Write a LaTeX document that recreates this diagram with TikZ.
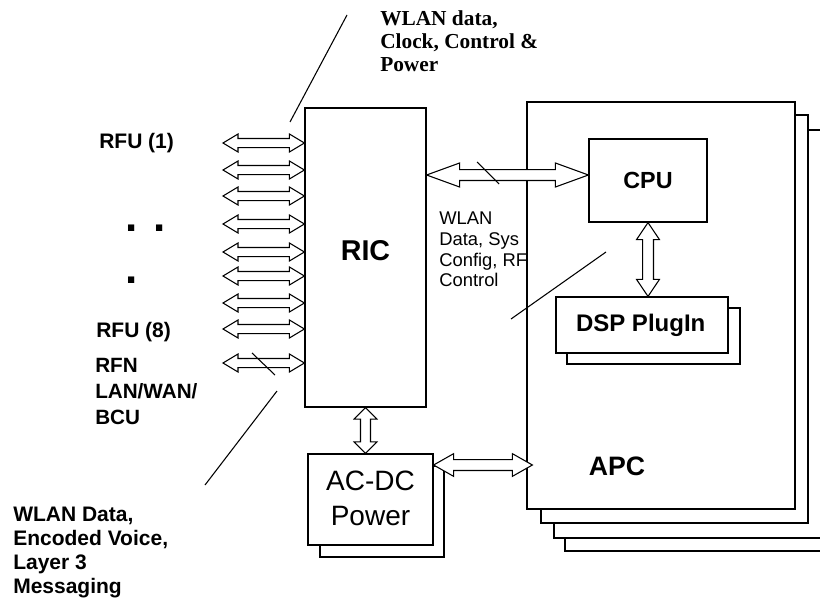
\documentclass[tikz,border=0pt]{standalone}
\usepackage{fontspec}
\setmainfont{Liberation Sans}
\newfontfamily\timesfont{Liberation Serif}
\usetikzlibrary{calc,fit}

\begin{document}
\begin{tikzpicture}[x=0.75pt, y=-0.75pt, line join=miter,
    box/.style={draw, line width=0.9pt, fill=white, inner sep=0pt},
    leader/.style={line width=0.8pt},
    blockarrow/.style n args={3}{draw, line width=0.8pt, fill=white,
        /utils/exec={\pgfmathsetmacro\headR{veclen(#1,#2)}%
            \pgfmathsetmacro\headA{atan2(#2,#1)}%
            \pgfmathsetmacro\neckR{veclen(#1,#3)}%
            \pgfmathsetmacro\neckA{atan2(#3,#1)}},
        to path={-- ($(\tikztostart)!\headR pt!\headA:(\tikztotarget)$)
            -- ($(\tikztostart)!\neckR pt!\neckA:(\tikztotarget)$)
            -- ($(\tikztotarget)!\neckR pt!-\neckA:(\tikztostart)$)
            -- ($(\tikztotarget)!\headR pt!-\headA:(\tikztostart)$)
            -- (\tikztotarget)
            -- ($(\tikztotarget)!\headR pt!\headA:(\tikztostart)$)
            -- ($(\tikztotarget)!\neckR pt!\neckA:(\tikztostart)$)
            -- ($(\tikztostart)!\neckR pt!-\neckA:(\tikztotarget)$)
            -- ($(\tikztostart)!\headR pt!-\headA:(\tikztotarget)$)
            -- cycle}},
    rfuarrow/.style={blockarrow={11.25}{6.75}{3.4}}]
        \useasboundingbox (0,0) rectangle (820,603);

        % --- Bus label (partly hidden by the APC card) ---
        \node[anchor=north west, inner sep=0pt, align=left, font=\fontsize{13.8}{15.5}\selectfont] 
            (buslbl) at (439,212) {WLAN\\Data, Sys\\Config, RF\\Control};

        % --- APC card stack ---
        \draw[line width=0.9pt, fill=white] (565,144) rectangle (835,551);
        \draw[line width=0.9pt, fill=white] (554,130) rectangle (822,538);
        \draw[line width=0.9pt, fill=white] (541,115) rectangle (808,523);
        \node[box, fit={(527,102) (795,509)}] (apc) {};
        \node[font=\bfseries\fontsize{20}{24}\selectfont] (apclbl) at (617,466) {APC};

        % --- CPU and DSP plug-in ---
        \node[box, fit={(589,139) (707,222)}, 
            label={[font=\bfseries\fontsize{17.5}{20}\selectfont]center:CPU}] (cpu) {};
        \draw[line width=0.9pt, fill=white] (567,308) rectangle (740,364);
        \node[box, fit={(556,297) (728,353)}, 
            label={[font=\bfseries\fontsize{18}{21}\selectfont, xshift=-1pt]center:DSP PlugIn}] (dsp) {};

        % --- RIC and power supply ---
        \node[box, fit={(305,108) (426,407)}, 
            label={[font=\bfseries\fontsize{21.5}{24}\selectfont, yshift=5pt]center:RIC}] (ric) {};
        \draw[line width=0.9pt, fill=white] (320,466) rectangle (444,557);
        \node[box, fit={(308,454) (433,545)}, 
            label={[align=center, font=\fontsize{21}{26}\selectfont, yshift=1pt]center:{AC-DC\\Power}}] (acdc) {};

        % --- RFU links into RIC ---
        \foreach \y [count=\i] in {143,170,196,224,252,276,303,329,363} {
            \coordinate (rfu\i) at (223,\y);
            \coordinate (ricin\i) at (ric.west |- rfu\i);
            \draw[rfuarrow] (rfu\i) to (ricin\i);
        }

        % --- Block arrows between units ---
        \coordinate (ricbus) at (ric.east |- 0,175);
        \coordinate (cpubus) at (cpu.west |- ricbus);
        \draw[blockarrow={24.75}{9}{4.1}] (ricbus) to (cpubus);

        \coordinate (cpudown) at (cpu.south);
        \coordinate (dspup) at (cpu.south |- dsp.north);
        \draw[blockarrow={12.75}{8.6}{4.1}] (cpudown) to (dspup);

        \coordinate (ricdown) at (ric.south);
        \coordinate (acdcup) at (ric.south |- acdc.north);
        \draw[blockarrow={8.6}{8.5}{3.75}] (ricdown) to (acdcup);

        \coordinate (acdcout) at (acdc.east |- 0,465);
        \coordinate (apcin) at ($(apc.west |- acdcout)+(6,0)$);
        \draw[blockarrow={15}{8.5}{4.1}] (acdcout) to (apcin);

        % --- Bus slashes and leader lines ---
        \draw[leader] (477,162) -- (499,184);
        \draw[leader] (252,353) -- (275,375);
        \draw[leader] (347,15) -- (290,122);
        \draw[leader] (606,252) -- (511,319);
        \draw[leader] (277,391) -- (205,485);

        % --- Left side labels ---
        \node[anchor=west, inner sep=0pt, font=\bfseries\fontsize{15.75}{19.5}\selectfont] 
            (rfufirst) at (99,143) {RFU (1)};
        \node[anchor=base west, inner sep=0pt, font=\bfseries\fontsize{33}{33}\selectfont] 
            (dotstwo) at (125,231) {. .};
        \node[anchor=base west, inner sep=0pt, font=\bfseries\fontsize{33}{33}\selectfont] 
            (dotone) at (125,283) {.};
        \node[anchor=west, inner sep=0pt, font=\bfseries\fontsize{15.75}{19.5}\selectfont] 
            (rfulast) at (96,332) {RFU (8)};
        \node[anchor=north west, inner sep=0pt, align=left, font=\bfseries\fontsize{15.5}{19.5}\selectfont] 
            (rfnlbl) at (95,358) {RFN\\LAN/WAN/\\BCU};

        % --- Leader texts ---
        \node[anchor=north west, inner sep=0pt, align=left, font=\timesfont\bfseries\fontsize{16}{17.25}\selectfont] 
            (toplbl) at (380,10) {WLAN data,\\Clock, Control \&\\Power};
        \node[anchor=north west, inner sep=0pt, align=left, font=\bfseries\fontsize{15.75}{18}\selectfont] 
            (voicelbl) at (13,507) {WLAN Data,\\Encoded Voice,\\Layer 3\\Messaging};
\end{tikzpicture}
\end{document}
